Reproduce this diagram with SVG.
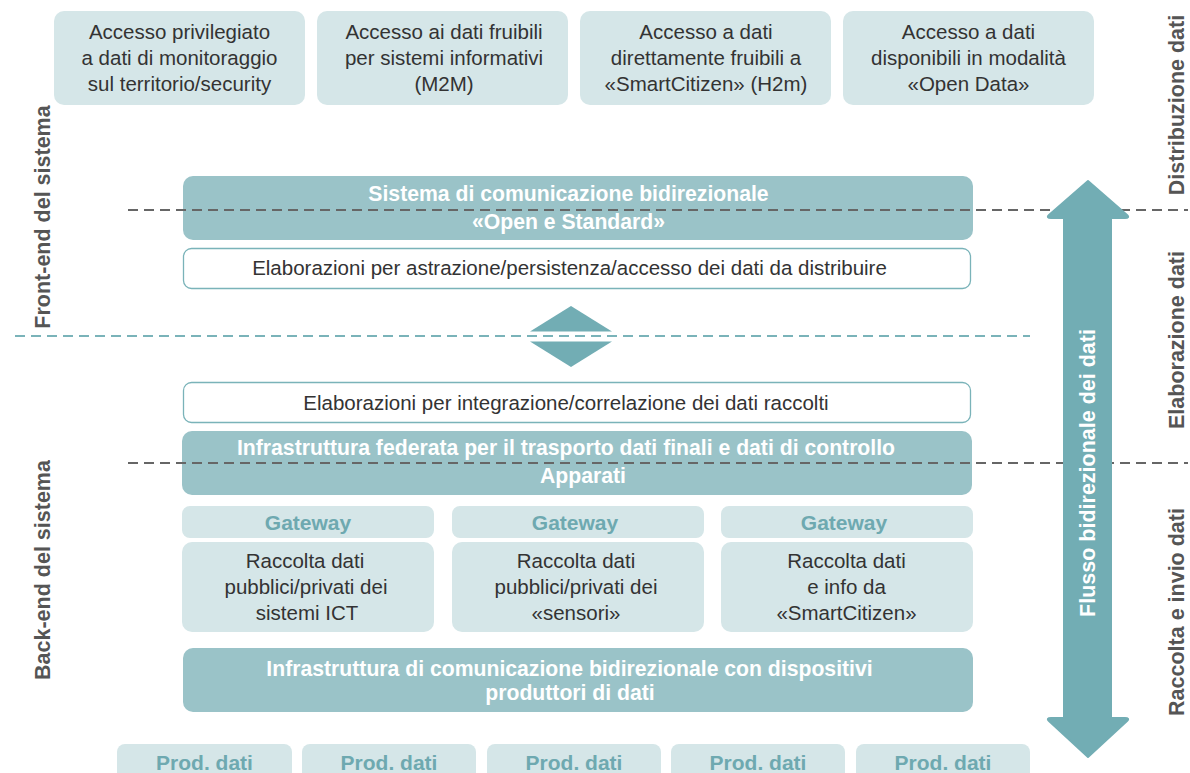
<svg xmlns="http://www.w3.org/2000/svg" width="1190" height="773" viewBox="0 0 1190 773">
<style>
.lt{fill:#d5e6e8}
.bar{fill:#9ac3c8}
.wb{fill:#fff;stroke:#7ab3b9;stroke-width:1.3}
.t{font-family:"Liberation Sans",Arial,sans-serif;font-size:20.5px;fill:#333;text-anchor:middle}
.tb{font-family:"Liberation Sans",Arial,sans-serif;font-size:21.2px;font-weight:bold;fill:#fff;text-anchor:middle}
.tg{font-family:"Liberation Sans",Arial,sans-serif;font-size:21px;font-weight:bold;fill:#6ea9b0;text-anchor:middle}
.side{font-family:"Liberation Sans",Arial,sans-serif;font-size:21.5px;font-weight:bold;fill:#555;text-anchor:middle}
.dg{stroke:#666;stroke-width:1.8;stroke-dasharray:10 6;fill:none}
.dt{stroke:#7ab3b9;stroke-width:1.8;stroke-dasharray:10 6;fill:none}
</style>
<rect width="1190" height="773" fill="#fff"/>
<g id="top1"><rect class="lt" x="54" y="11" width="251" height="94" rx="10"/>
<text class="t" x="179.5" y="39">Accesso privilegiato</text><text class="t" x="179.5" y="65">a dati di monitoraggio</text><text class="t" x="179.5" y="91">sul territorio/security</text></g>
<g id="top2"><rect class="lt" x="317" y="11" width="251" height="94" rx="10"/>
<text class="t" x="444" y="39">Accesso ai dati fruibili</text><text class="t" x="444" y="65">per sistemi informativi</text><text class="t" x="444" y="91">(M2M)</text></g>
<g id="top3"><rect class="lt" x="580" y="11" width="251" height="94" rx="10"/>
<text class="t" x="706" y="39">Accesso a dati</text><text class="t" x="706" y="65">direttamente fruibili a</text><text class="t" x="706" y="91">«SmartCitizen» (H2m)</text></g>
<g id="top4"><rect class="lt" x="843" y="11" width="251" height="94" rx="10"/>
<text class="t" x="968.5" y="39">Accesso a dati</text><text class="t" x="968.5" y="65">disponibili in modalità</text><text class="t" x="968.5" y="91">«Open Data»</text></g>

<g id="bar1"><rect class="bar" x="183" y="176" width="790" height="64" rx="10"/>
<text class="tb" x="568.5" y="201">Sistema di comunicazione bidirezionale</text><text class="tb" x="568.5" y="229">«Open e Standard»</text></g>
<g id="elab1"><rect class="wb" x="183.5" y="248.5" width="787" height="40" rx="8"/>
<text class="t" x="569.5" y="275">Elaborazioni per astrazione/persistenza/accesso dei dati da distribuire</text></g>

<g id="diamond"><polygon points="571,306 612,331.5 530,331.5" fill="#72adb4"/><polygon points="530,341.5 612,341.5 571,367" fill="#72adb4"/></g>

<g id="elab2"><rect class="wb" x="183.5" y="382.5" width="787" height="40" rx="8"/>
<text class="t" x="566" y="410">Elaborazioni per integrazione/correlazione dei dati raccolti</text></g>
<g id="bar2"><rect class="bar" x="182" y="431" width="790" height="64" rx="10"/>
<text class="tb" x="566" y="455">Infrastruttura federata per il trasporto dati finali e dati di controllo</text><text class="tb" x="583" y="483">Apparati</text></g>

<g id="gw1"><rect class="lt" x="182" y="506" width="252" height="32" rx="8"/><text class="tg" x="308" y="530">Gateway</text>
<rect class="lt" x="182" y="542" width="252" height="90" rx="10"/>
<text class="t" x="305" y="568">Raccolta dati</text><text class="t" x="306" y="594">pubblici/privati dei</text><text class="t" x="307" y="620">sistemi ICT</text></g>
<g id="gw2"><rect class="lt" x="452" y="506" width="252" height="32" rx="8"/><text class="tg" x="575" y="530">Gateway</text>
<rect class="lt" x="452" y="542" width="252" height="90" rx="10"/>
<text class="t" x="576" y="568">Raccolta dati</text><text class="t" x="576" y="594">pubblici/privati dei</text><text class="t" x="576" y="620">«sensori»</text></g>
<g id="gw3"><rect class="lt" x="721" y="506" width="252" height="32" rx="8"/><text class="tg" x="844" y="530">Gateway</text>
<rect class="lt" x="721" y="542" width="252" height="90" rx="10"/>
<text class="t" x="846.5" y="568">Raccolta dati</text><text class="t" x="846.5" y="594">e info da</text><text class="t" x="846.5" y="620">«SmartCitizen»</text></g>

<g id="bar3"><rect class="bar" x="183" y="648" width="790" height="64" rx="10"/>
<text class="tb" x="569.5" y="676">Infrastruttura di comunicazione bidirezionale con dispositivi</text><text class="tb" x="570" y="700">produttori di dati</text></g>

<g id="prod">
<rect class="lt" x="117" y="744" width="175" height="40" rx="8"/><text class="tg" x="204.5" y="770">Prod. dati</text>
<rect class="lt" x="302" y="744" width="174" height="40" rx="8"/><text class="tg" x="389" y="770">Prod. dati</text>
<rect class="lt" x="487" y="744" width="174" height="40" rx="8"/><text class="tg" x="574" y="770">Prod. dati</text>
<rect class="lt" x="671" y="744" width="174" height="40" rx="8"/><text class="tg" x="758" y="770">Prod. dati</text>
<rect class="lt" x="856" y="744" width="174" height="40" rx="8"/><text class="tg" x="943" y="770">Prod. dati</text>
</g>

<g id="connectors">
<line class="dg" x1="128" y1="210" x2="1188" y2="210"/>
<line class="dg" x1="128" y1="463" x2="1188" y2="463"/>
<line class="dt" x1="15" y1="336" x2="1030" y2="336"/>
</g>

<g id="arrow">
<path d="M1088,181 L1127,215 Q1130,218 1125,218 L1111,218 L1111,718 L1125,718 Q1130,718 1127,721 L1088,757 L1049,721 Q1046,718 1051,718 L1064,718 L1064,218 L1051,218 Q1046,218 1049,215 Z" fill="#72adb4" stroke="#72adb4" stroke-width="2" stroke-linejoin="round"/>
<text class="side" transform="translate(1095,473) rotate(-90)" style="fill:#fff">Flusso bidirezionale dei dati</text>
</g>

<g id="labels">
<text class="side" transform="translate(1184,105) rotate(-90)">Distribuzione dati</text>
<text class="side" transform="translate(1184,340) rotate(-90)">Elaborazione dati</text>
<text class="side" transform="translate(1184,612) rotate(-90)">Raccolta e invio dati</text>
<text class="side" transform="translate(50,217) rotate(-90)">Front-end del sistema</text>
<text class="side" transform="translate(50,570) rotate(-90)">Back-end del sistema</text>
</g>
</svg>
